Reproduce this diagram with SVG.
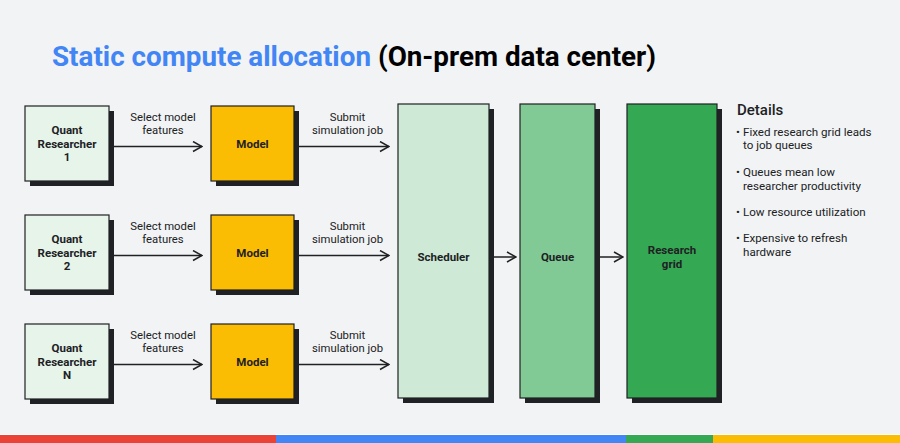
<svg xmlns="http://www.w3.org/2000/svg" width="900" height="443" viewBox="0 0 900 443">
<defs>
<style>
.bg{fill:#f1f3f4}
.sh{fill:#202124}
.box{stroke:#202124;stroke-width:1.2}
.res{fill:#e6f4ea}
.mod{fill:#fbbc04}
.sch{fill:#ceead6}
.que{fill:#81c995}
.grid{fill:#34a853}
.lbl{font-family:Roboto,"Liberation Sans",sans-serif;font-size:11.5px;font-weight:700;fill:#202124;text-anchor:middle}
.elbl{font-family:Roboto,"Liberation Sans",sans-serif;font-size:11.3px;fill:#202124;text-anchor:middle}
.det{font-family:Roboto,"Liberation Sans",sans-serif;font-size:11.6px;fill:#202124}
.dh{font-family:Roboto,"Liberation Sans",sans-serif;font-size:15px;font-weight:500;fill:#202124}
.conn{stroke:#202124;stroke-width:1.5;fill:none}
</style>
<marker id="arr" viewBox="0 0 12 12" refX="11" refY="6" markerWidth="12" markerHeight="12" markerUnits="userSpaceOnUse" orient="auto">
<path d="M2,1 L11,6 L2,11" fill="none" stroke="#202124" stroke-width="1.5"/>
</marker>
</defs>
<rect class="bg" x="0" y="0" width="900" height="443"/>
<text x="52" y="66" font-family="Roboto,'Liberation Sans',sans-serif" font-size="27.8" font-weight="700"><tspan fill="#4285f4">Static compute allocation</tspan><tspan fill="#000000"> (On-prem data center)</tspan></text>

<g id="researcher1"><rect class="sh" x="30" y="111" width="84" height="75"/><rect class="box res" x="25" y="106" width="84" height="75"/><text class="lbl" x="67" y="134">Quant</text><text class="lbl" x="67" y="147.5">Researcher</text><text class="lbl" x="67" y="161">1</text></g>
<g id="researcher2"><rect class="sh" x="30" y="220" width="84" height="75"/><rect class="box res" x="25" y="215" width="84" height="75"/><text class="lbl" x="67" y="243">Quant</text><text class="lbl" x="67" y="256.5">Researcher</text><text class="lbl" x="67" y="270">2</text></g>
<g id="researcherN"><rect class="sh" x="30" y="329" width="84" height="75"/><rect class="box res" x="25" y="324" width="84" height="75"/><text class="lbl" x="67" y="352">Quant</text><text class="lbl" x="67" y="365.5">Researcher</text><text class="lbl" x="67" y="379">N</text></g>

<g id="model1"><rect class="sh" x="216" y="111" width="83" height="75"/><rect class="box mod" x="211" y="106" width="83" height="75"/><text class="lbl" x="252.5" y="147.5">Model</text></g>
<g id="model2"><rect class="sh" x="216" y="220" width="83" height="75"/><rect class="box mod" x="211" y="215" width="83" height="75"/><text class="lbl" x="252.5" y="256.5">Model</text></g>
<g id="modelN"><rect class="sh" x="216" y="329" width="83" height="75"/><rect class="box mod" x="211" y="324" width="83" height="75"/><text class="lbl" x="252.5" y="365.5">Model</text></g>

<g id="scheduler"><rect class="sh" x="403" y="109" width="91" height="294"/><rect class="box sch" x="398" y="104" width="91" height="294"/><text class="lbl" x="443.5" y="261">Scheduler</text></g>
<g id="queue"><rect class="sh" x="525" y="109" width="75" height="294"/><rect class="box que" x="520" y="104" width="75" height="294"/><text class="lbl" x="557.5" y="261">Queue</text></g>
<g id="researchgrid"><rect class="sh" x="632" y="109" width="90" height="294"/><rect class="box grid" x="627" y="104" width="90" height="294"/><text class="lbl" x="672" y="254">Research</text><text class="lbl" x="672" y="267.5">grid</text></g>

<g id="connectors">
<line class="conn" x1="114" y1="146.5" x2="202" y2="146.5" marker-end="url(#arr)"/>
<line class="conn" x1="299" y1="146.5" x2="389" y2="146.5" marker-end="url(#arr)"/>
<line class="conn" x1="114" y1="255.5" x2="202" y2="255.5" marker-end="url(#arr)"/>
<line class="conn" x1="299" y1="255.5" x2="389" y2="255.5" marker-end="url(#arr)"/>
<line class="conn" x1="114" y1="364.5" x2="202" y2="364.5" marker-end="url(#arr)"/>
<line class="conn" x1="299" y1="364.5" x2="389" y2="364.5" marker-end="url(#arr)"/>
<line class="conn" x1="494" y1="257" x2="516" y2="257" marker-end="url(#arr)"/>
<line class="conn" x1="600" y1="257" x2="623" y2="257" marker-end="url(#arr)"/>
<text class="elbl" x="163" y="121">Select model</text><text class="elbl" x="163" y="134">features</text>
<text class="elbl" x="347.5" y="121">Submit</text><text class="elbl" x="347.5" y="134">simulation job</text>
<text class="elbl" x="163" y="230">Select model</text><text class="elbl" x="163" y="243">features</text>
<text class="elbl" x="347.5" y="230">Submit</text><text class="elbl" x="347.5" y="243">simulation job</text>
<text class="elbl" x="163" y="339">Select model</text><text class="elbl" x="163" y="352">features</text>
<text class="elbl" x="347.5" y="339">Submit</text><text class="elbl" x="347.5" y="352">simulation job</text>
</g>

<g id="details">
<text class="dh" x="737" y="115">Details</text>
<text class="det" x="736" y="135.5">•</text><text class="det" x="743" y="135.5">Fixed research grid leads</text><text class="det" x="743" y="149">to job queues</text>
<text class="det" x="736" y="176">•</text><text class="det" x="743" y="176">Queues mean low</text><text class="det" x="743" y="189.5">researcher productivity</text>
<text class="det" x="736" y="215.5">•</text><text class="det" x="743" y="215.5">Low resource utilization</text>
<text class="det" x="736" y="242">•</text><text class="det" x="743" y="242">Expensive to refresh</text><text class="det" x="743" y="255.5">hardware</text>
</g>

<rect x="0" y="434" width="900" height="1" fill="#ffffff"/>
<rect x="0" y="435" width="276" height="8" fill="#ea4335"/>
<rect x="276" y="435" width="350" height="8" fill="#4285f4"/>
<rect x="626" y="435" width="87" height="8" fill="#34a853"/>
<rect x="713" y="435" width="187" height="8" fill="#fbbc04"/>
</svg>
